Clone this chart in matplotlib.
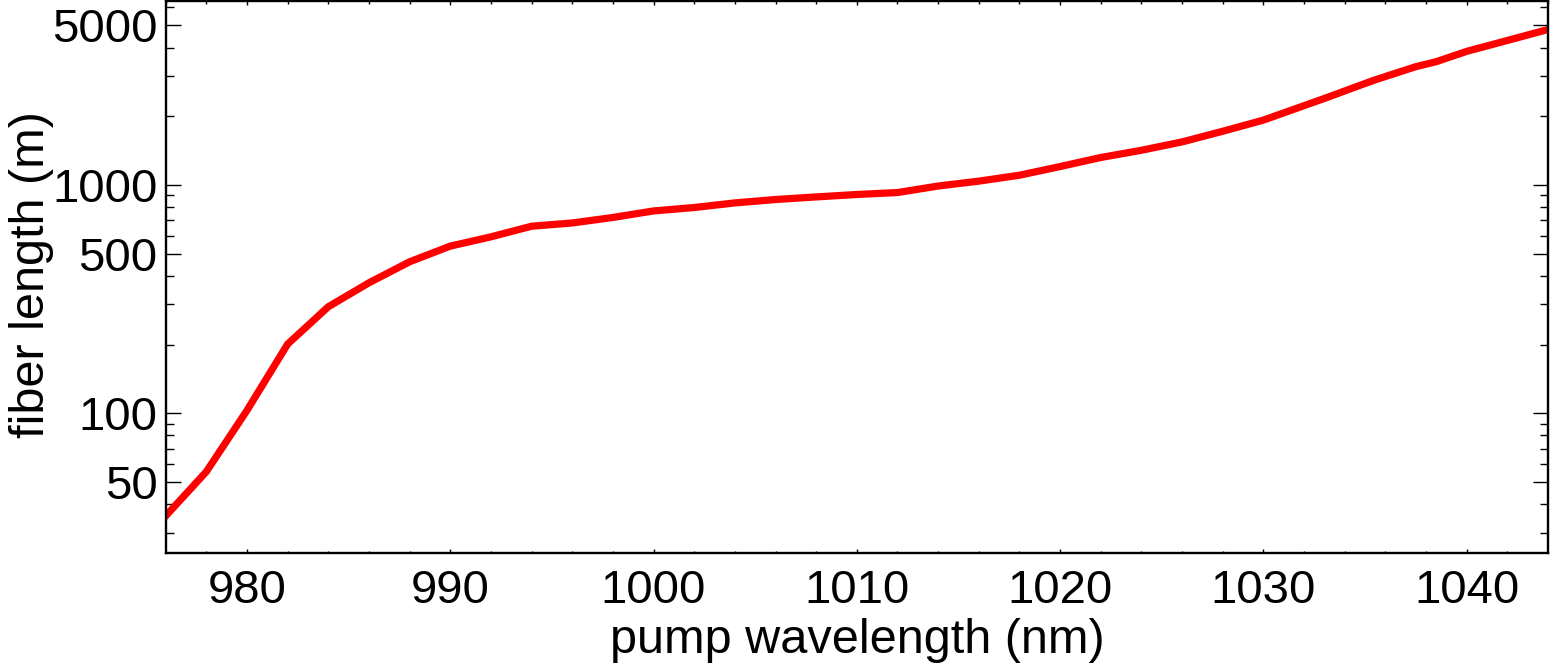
import numpy as np
import matplotlib
matplotlib.use("Agg")
import matplotlib.pyplot as plt
from matplotlib.ticker import FixedLocator, NullFormatter

# pump wavelength (nm) vs required fiber length (m)
wavelength = [976, 978, 980, 982, 984, 986, 988, 990, 992, 994, 996, 998,
              1000, 1002, 1004, 1006, 1008, 1010, 1012, 1014, 1016, 1018,
              1020, 1022, 1024, 1026, 1028, 1030, 1033, 1035, 1035.5,
              1037.5, 1038.5, 1040, 1044]
fiber_len = [35.5, 55.5, 103, 201, 293, 373, 461, 540, 593, 660, 682, 721,
             770, 797, 835, 864, 887, 909, 927, 990, 1040, 1104,
             1205, 1320, 1420, 1545, 1720, 1925, 2395, 2785, 2890,
             3300, 3470, 3850, 4800]

x_major = [980, 990, 1000, 1010, 1020, 1030, 1040]
x_minor = list(range(976, 1045, 2))
y_major = [50, 100, 500, 1000, 5000]
y_minor = [30, 40, 60, 70, 80, 90, 200, 300, 400, 600, 700, 800, 900,
           2000, 3000, 4000, 6000]

plt.rcParams['font.family'] = ['Liberation Sans', 'DejaVu Sans']

fig = plt.figure(figsize=(15.5, 6.72), dpi=100)
ax = fig.add_axes([0.1069, 0.1775, 0.8918, 0.821])

ax.plot(wavelength, fiber_len, color='#ff0000', lw=5.2, solid_joinstyle='miter')

ax.set_yscale('log')
ax.set_xlim(976, 1044)
ax.set_ylim(24.5, 6400)

ax.xaxis.set_major_locator(FixedLocator(x_major))
ax.xaxis.set_minor_locator(FixedLocator(x_minor))
ax.yaxis.set_major_locator(FixedLocator(y_major))
ax.yaxis.set_minor_locator(FixedLocator(y_minor))
ax.set_yticklabels([str(v) for v in y_major])
ax.yaxis.set_minor_formatter(NullFormatter())

for s in ax.spines.values():
    s.set_linewidth(1.7)

ax.tick_params(axis='both', which='both', direction='in', top=True, right=True,
               width=1.0, colors='black', labelsize=34)
ax.tick_params(axis='x', which='major', length=3.2, pad=12)
ax.tick_params(axis='x', which='minor', length=1.8)
ax.tick_params(axis='y', which='major', length=11, pad=6)
ax.tick_params(axis='y', which='minor', length=6)

ax.set_xlabel('pump wavelength (nm)', fontsize=35)
ax.set_ylabel('fiber length (m)', fontsize=35)
ax.xaxis.set_label_coords(0.5, -0.118)
ax.yaxis.set_label_coords(-0.081, 0.505)

fig.savefig('out.png', dpi=100)
